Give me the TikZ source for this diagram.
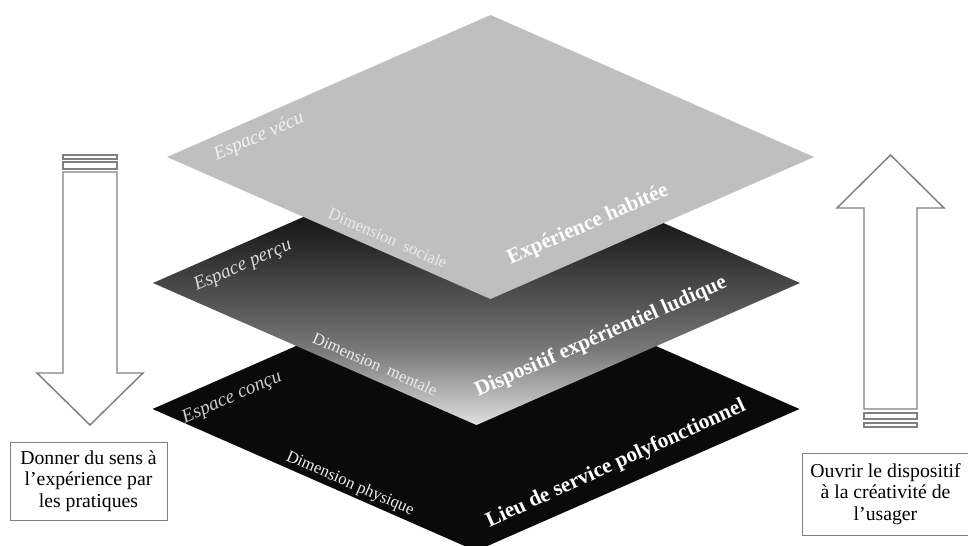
\documentclass[tikz,border=0pt]{standalone}
\usepackage{fontspec}
\setmainfont{Liberation Serif}
\usepackage{tikz}

% degrade du plan intermediaire (25bp = bas, 75bp = haut)
\pgfdeclareverticalshading{plandegrade}{100bp}{
  color(0bp)=(black!12); color(25bp)=(black!12); color(31bp)=(black!31);
  color(38bp)=(black!52); color(47bp)=(black!68); color(50bp)=(black!72);
  color(56bp)=(black!83); color(61bp)=(black!90); color(75bp)=(black!97);
  color(100bp)=(black!97)}

\tikzset{
  legende/.style={draw=black!50, line width=0.7pt, fill=white, align=center,
    inner sep=0pt, font=\fontsize{14.8}{16.3}\selectfont},
  espace/.style={font=\fontsize{14.5}{16}\selectfont\itshape},
  dimension/.style={font=\fontsize{12.5}{14}\selectfont, text=black!8},
  niveau/.style={font=\fontsize{16}{18}\selectfont\bfseries, text=white},
  fleche/.style={draw=black!50, line width=1.1pt, fill=white},
}

\begin{document}
\begin{tikzpicture}[x=0.75pt, y=-0.75pt]
  \useasboundingbox (0,0) rectangle (968,546);
  \def\hw{323.5};
  \def\hh{142};
  \def\ang{23.7};

  % les trois plans
  \fill [black!96] ({476-\hw},409) -- ++(\hw,\hh) -- ++(\hw,-\hh) -- ++(-\hw,-\hh) -- cycle;
  \shade [shading=plandegrade]
    ({476.5-\hw},283) -- ++(\hw,\hh) -- ++(\hw,-\hh) -- ++(-\hw,-\hh) -- cycle;
  \fill [black!25] ({490.5-\hw},157) -- ++(\hw,\hh) -- ++(\hw,-\hh) -- ++(-\hw,-\hh) -- cycle;

  \node [espace, text=black!5, rotate=\ang] (vecu) at (259,137) {Espace vécu};
  \node [dimension, rotate=-\ang] (sociale) at (388,238) {Dimension~~sociale};
  \node [niveau, rotate=\ang] (habitee) at (588,225) {Expérience habitée};

  \node [espace, text=black!15, rotate=\ang] (percu) at (243,266) {Espace perçu};
  \node [dimension, rotate=-\ang] (mentale) at (375,364) {Dimension~~mentale};
  \node [niveau, rotate=\ang] (ludique) at (601,337) {Dispositif expérientiel ludique};

  \node [espace, text=black!20, rotate=\ang] (concu) at (232,398) {Espace conçu};
  \node [dimension, rotate=-\ang] (physique) at (350,484) {Dimension physique};
  \node [niveau, rotate=24.5] (lieu) at (616,464) {Lieu de service polyfonctionnel};

  % fleches laterales
  \begin{scope}[fleche]
    \filldraw (63,172) -- (117,172) -- (117,373) -- (143,373) -- (90,425)
      -- (37,373) -- (63,373) -- cycle;
    \foreach \ya/\yb in {155/159, 162/169}
      \filldraw (63,\ya) rectangle (117,\yb);

    \filldraw (864,409) -- (864,208) -- (837,208) -- (890.5,155) -- (944,208)
      -- (917,208) -- (917,409) -- cycle;
    \foreach \ya/\yb in {413/419, 423/427}
      \filldraw (864,\ya) rectangle (917,\yb);
  \end{scope}

  \node [legende, minimum width=117.75pt, minimum height=58.5pt] (sens) at (88.5,481)
    {Donner du sens à\\l’expérience par\\les pratiques};
  \node [legende, minimum width=125pt, minimum height=61.5pt] (usager) at (885.5,494)
    {Ouvrir le dispositif\\à la créativité de\\l’usager};
\end{tikzpicture}
\end{document}
